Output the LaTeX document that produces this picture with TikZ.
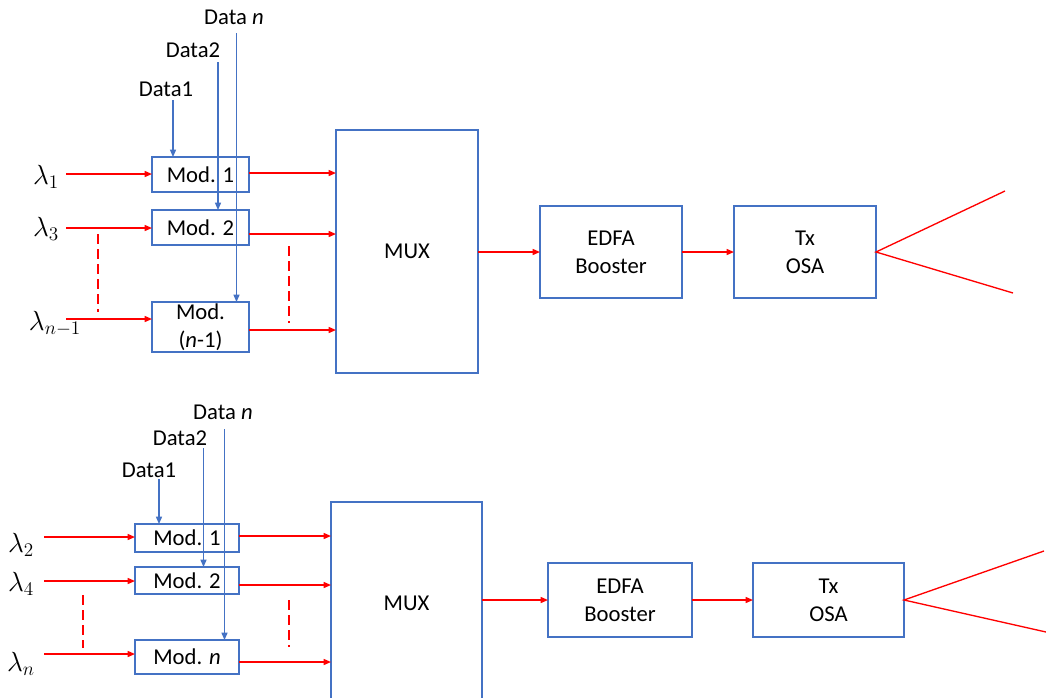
\documentclass[tikz,border=0pt]{standalone}
\usepackage{fontspec}
\setmainfont{Carlito}
\usetikzlibrary{arrows.meta}
\newlength\pxu
\setlength\pxu{0.75pt}
\definecolor{boxblue}{RGB}{68,114,196}
\definecolor{sigred}{RGB}{255,0,0}
\begin{document}
\begin{tikzpicture}[x=0.75pt, y=-0.75pt,
  every node/.style={font=\fontsize{17}{21}\selectfont, inner sep=0pt},
  lam/.style={font=\fontsize{20}{24}\selectfont},
  blk/.style 2 args={draw=boxblue, line width=1.1pt, minimum width=#1\pxu, minimum height=#2\pxu, inner sep=0pt, outer sep=0pt, align=center},
  sig/.style={draw=sigred, line width=1pt, -{Triangle[length=5.5pt,width=4.5pt]}},
  dat/.style={draw=boxblue, line width=1pt, -{Triangle[length=5.5pt,width=4.5pt]}},
  gap/.style={draw=sigred, line width=1pt, dash pattern=on 7.5pt off 3.75pt},
  fib/.style={draw=sigred, line width=1pt}]
\useasboundingbox (0,0) rectangle (1046,697);

% ---------- top ----------
\node[blk={97}{35}] (m1) at (200.5,174.5) {Mod. 1};
\node[blk={97}{35}] (m2) at (200.5,227.5) {Mod. 2};
\node[blk={97}{50}] (m3) at (200.5,327) {Mod.\\(\textit{n}-1)};
\node[blk={142}{243}] (mux) at (407,251.5) {MUX};
\node[blk={142}{92}] (edfa) at (611,252) {EDFA\\Booster};
\node[blk={142}{92}] (tx) at (805,252) {Tx\\OSA};

\node[lam] (l1) at (46,177) {$\lambda_1$};
\node[lam] (l3) at (46,229) {$\lambda_3$};
\node[lam] (ln1) at (55,324) {$\lambda_{n-1}$};

\coordinate (a1) at (66,174);
\coordinate (a3) at (66,228);
\coordinate (an1) at (66,319);
\draw[sig] (a1) -- (a1 -| m1.west);
\draw[sig] (a3) -- (a3 -| m2.west);
\draw[sig] (an1) -- (an1 -| m3.west);

\coordinate (r1) at (0,173);
\coordinate (r2) at (0,234);
\coordinate (r3) at (0,330);
\draw[sig] (m1.east |- r1) -- (mux.west |- r1);
\draw[sig] (m2.east |- r2) -- (mux.west |- r2);
\draw[sig] (m3.east |- r3) -- (mux.west |- r3);

\coordinate (g1a) at (98,234);
\coordinate (g1b) at (98,312);
\draw[gap] (g1a) -- (g1b);
\coordinate (g2a) at (289,246);
\coordinate (g2b) at (289,323);
\draw[gap] (g2a) -- (g2b);

\node (d1) at (166,89) {Data1};
\node (d2) at (193,50) {Data2};
\node (dn) at (234,17) {Data \textit{n}};
\coordinate (d1s) at (173,100);
\coordinate (d2s) at (218,62);
\coordinate (dns) at (236.5,33);
\draw[dat] (d1s) -- (d1s |- m1.north);
\draw[dat] (d2s) -- (d2s |- m2.north);
\draw[dat] (dns) -- (dns |- m3.north);

\draw[sig] (mux.east |- edfa) -- (edfa.west);
\draw[sig] (edfa) -- (tx);
\coordinate (ant1) at (1005,191);
\coordinate (ant2) at (1013,293);
\draw[fib] (ant1) -- (tx.east) -- (ant2);

% ---------- bottom ----------
\node[blk={104}{28}] (m1b) at (187,538) {Mod. 1};
\node[blk={104}{27}] (m2b) at (187,580.5) {Mod. 2};
\node[blk={104}{34}] (mnb) at (187,657) {Mod. \textit{n}};
\node[blk={151}{203}] (muxb) at (406.5,603.5) {MUX};
\node[blk={144}{74}] (edfab) at (620,600) {EDFA\\Booster};
\node[blk={151}{74}] (txb) at (828.5,600) {Tx\\OSA};

\node[lam] (l2) at (21,545) {$\lambda_2$};
\node[lam] (l4) at (21,584) {$\lambda_4$};
\node[lam] (ln) at (21,664) {$\lambda_n$};

\coordinate (b1) at (44,537);
\coordinate (b2) at (44,581);
\coordinate (bn) at (44,654);
\draw[sig] (b1) -- (b1 -| m1b.west);
\draw[sig] (b2) -- (b2 -| m2b.west);
\draw[sig] (bn) -- (bn -| mnb.west);

\coordinate (s1) at (0,536);
\coordinate (s2) at (0,585);
\coordinate (s3) at (0,662);
\draw[sig] (m1b.east |- s1) -- (muxb.west |- s1);
\draw[sig] (m2b.east |- s2) -- (muxb.west |- s2);
\draw[sig] (mnb.east |- s3) -- (muxb.west |- s3);

\coordinate (h1a) at (83,595);
\coordinate (h1b) at (83,648);
\draw[gap] (h1a) -- (h1b);
\coordinate (h2a) at (289,600);
\coordinate (h2b) at (289,647);
\draw[gap] (h2a) -- (h2b);

\node (e1) at (149,470) {Data1};
\node (e2) at (180,438) {Data2};
\node (en) at (223,412) {Data \textit{n}};
\coordinate (e1s) at (159,479);
\coordinate (e2s) at (203.5,448);
\coordinate (ens) at (224.5,429);
\draw[dat] (e1s) -- (e1s |- m1b.north);
\draw[dat] (e2s) -- (e2s |- m2b.north);
\draw[dat] (ens) -- (ens |- mnb.north);

\draw[sig] (muxb.east |- edfab) -- (edfab.west);
\draw[sig] (edfab) -- (txb);
\coordinate (bnt1) at (1044,551);
\coordinate (bnt2) at (1046,632);
\draw[fib] (bnt1) -- (txb.east) -- (bnt2);
\end{tikzpicture}
\end{document}
